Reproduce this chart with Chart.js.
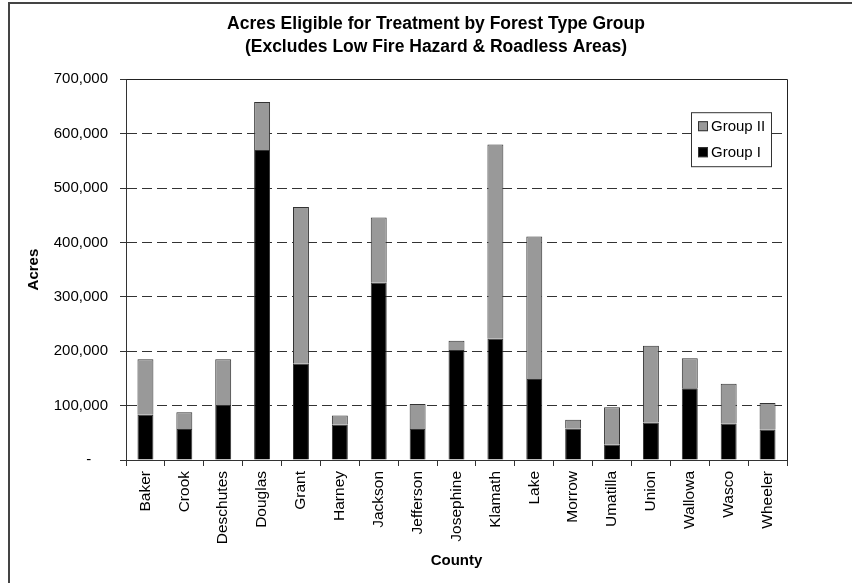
<!DOCTYPE html>
<html>
<head>
<meta charset="utf-8">
<title>Acres Eligible for Treatment by Forest Type Group</title>
<script src="https://cdn.jsdelivr.net/npm/chart.js@4/dist/chart.umd.min.js"></script>
<style>
  html, body { margin: 0; padding: 0; background: #ffffff; }
  canvas { display: block; }
</style>
</head>
<body>
<canvas id="chart" width="852" height="583"></canvas>
<script>
// County names along the x axis
const counties = ['Baker', 'Crook', 'Deschutes', 'Douglas', 'Grant', 'Harney', 'Jackson',
  'Jefferson', 'Josephine', 'Klamath', 'Lake', 'Morrow', 'Umatilla', 'Union',
  'Wallowa', 'Wasco', 'Wheeler'];

// Acres eligible for treatment, by forest type group
const groupI = [83000, 57000, 101000, 570000, 177000, 65000, 326000, 57000, 202000,
  223000, 149000, 58000, 28000, 69000, 132000, 67000, 56000];
const groupII = [102000, 31000, 84000, 88000, 288000, 17000, 120000, 46000, 17000,
  357000, 262000, 16000, 69000, 141000, 55000, 73000, 49000];

// Value axis labels (accounting style: zero shown as a dash)
const yTickLabels = ['-', '100,000', '200,000', '300,000', '400,000', '500,000', '600,000', '700,000'];

const FONT = '"Liberation Sans", Arial, Helvetica, sans-serif';

// Page frame and solid plot-area edges
const framePlugin = {
  id: 'frame',
  beforeDraw(chart) {
    const ctx = chart.ctx;
    ctx.save();
    ctx.fillStyle = '#ffffff';
    ctx.fillRect(0, 0, chart.width, chart.height);
    ctx.strokeStyle = '#444444';
    ctx.lineWidth = 2;
    ctx.beginPath();
    ctx.moveTo(9, chart.height + 2);
    ctx.lineTo(9, 3);
    ctx.lineTo(chart.width + 2, 3);
    ctx.stroke();
    ctx.restore();
  },
  afterDatasetsDraw(chart) {
    const a = chart.chartArea;
    const ctx = chart.ctx;
    ctx.save();
    ctx.strokeStyle = '#222222';
    ctx.lineWidth = 1;
    ctx.beginPath();
    ctx.moveTo(Math.round(a.left) + 0.5, Math.round(a.top) + 0.5);
    ctx.lineTo(Math.round(a.right) + 0.5, Math.round(a.top) + 0.5);
    ctx.lineTo(Math.round(a.right) + 0.5, Math.round(a.bottom) + 0.5);
    ctx.stroke();
    ctx.restore();
  }
};

// Boxed legend inside the plot area, top series listed first
const boxLegendPlugin = {
  id: 'boxLegend',
  afterDraw(chart) {
    const ctx = chart.ctx;
    const a = chart.chartArea;
    const x = a.right - 96, y = a.top + 33, w = 80, h = 54;
    ctx.save();
    ctx.fillStyle = '#ffffff';
    ctx.fillRect(x, y, w, h);
    ctx.strokeStyle = '#333333';
    ctx.lineWidth = 1;
    ctx.strokeRect(x + 0.5, y + 0.5, w, h);
    ctx.font = '15px ' + FONT;
    ctx.textBaseline = 'middle';
    ctx.textAlign = 'left';
    const sets = chart.data.datasets.slice().reverse();
    sets.forEach((ds, i) => {
      const cy = y + 14 + i * 26;
      ctx.fillStyle = ds.backgroundColor;
      ctx.fillRect(x + 7, cy - 5, 10, 10);
      ctx.strokeStyle = '#333333';
      ctx.strokeRect(x + 7.5, cy - 4.5, 9, 9);
      ctx.fillStyle = '#000000';
      ctx.fillText(ds.label, x + 20, cy + 1);
    });
    ctx.restore();
  }
};

new Chart(document.getElementById('chart'), {
  type: 'bar',
  data: {
    labels: counties,
    datasets: [
      {
        label: 'Group I',
        data: groupI,
        backgroundColor: '#000000',
        borderColor: '#333333',
        borderWidth: 1,
        barPercentage: 0.41,
        categoryPercentage: 1.0
      },
      {
        label: 'Group II',
        data: groupII,
        backgroundColor: '#999999',
        borderColor: '#333333',
        borderWidth: 1,
        barPercentage: 0.41,
        categoryPercentage: 1.0
      }
    ]
  },
  options: {
    responsive: false,
    animation: false,
    devicePixelRatio: 1,
    layout: { padding: { left: 20, right: 0, top: 0, bottom: 0 } },
    plugins: {
      legend: { display: false },
      tooltip: { enabled: false },
      title: {
        display: true,
        text: ['Acres Eligible for Treatment by Forest Type Group',
               '(Excludes Low Fire Hazard & Roadless Areas)'],
        color: '#000000',
        font: { family: FONT, size: 17.5, weight: 'bold', lineHeight: 1.32 },
        padding: { top: 13, bottom: 20 }
      }
    },
    scales: {
      x: {
        stacked: true,
        afterFit(scale) { scale.height = 123; },
        grid: {
          display: true,
          drawOnChartArea: false,
          drawTicks: true,
          tickLength: 6,
          offset: true,
          color: '#333333',
          tickColor: '#333333'
        },
        border: { display: true, color: '#333333', width: 1 },
        ticks: {
          autoSkip: false,
          minRotation: 90,
          maxRotation: 90,
          padding: 5,
          color: '#000000',
          font: { family: FONT, size: 15.5 }
        },
        title: {
          display: true,
          text: 'County',
          color: '#000000',
          font: { family: FONT, size: 15, weight: 'bold' },
          padding: { top: 0, bottom: 13 }
        }
      },
      y: {
        stacked: true,
        min: 0,
        max: 700000,
        afterFit(scale) { scale.width = 106; },
        grid: {
          display: true,
          drawOnChartArea: true,
          drawTicks: true,
          tickLength: 6,
          color: '#333333',
          tickColor: '#333333',
          tickBorderDash: []
        },
        border: { display: true, color: '#333333', width: 1, dash: [10, 5] },
        ticks: {
          stepSize: 100000,
          padding: 12,
          color: '#000000',
          font: { family: FONT, size: 15 },
          callback(value, index) {
            const label = yTickLabels[index];
            return value === 0 ? label + '    ' : label;
          }
        },
        title: {
          display: true,
          text: 'Acres',
          color: '#000000',
          font: { family: FONT, size: 15, weight: 'bold' },
          padding: { top: 5, bottom: 0 }
        }
      },
      spare: {
        type: 'linear',
        position: 'right',
        display: true,
        afterFit(scale) { scale.width = 65; },
        grid: { display: false },
        border: { display: false },
        ticks: { display: false }
      }
    }
  },
  plugins: [framePlugin, boxLegendPlugin]
});
</script>
</body>
</html>
